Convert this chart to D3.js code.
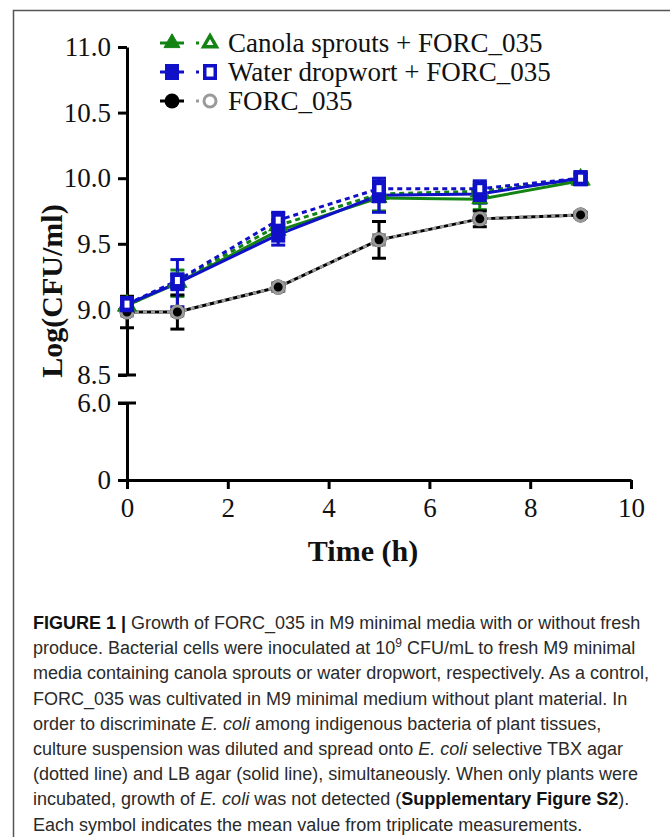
<!DOCTYPE html>
<html>
<head>
<meta charset="utf-8">
<script src="https://cdn.jsdelivr.net/npm/d3@7"></script>
<style>
  body { margin: 0; background: #fff; }
  svg { display: block; }
</style>
</head>
<body>
<div id="chart"></div>
<script>
// time points (h)
var time = [0, 1, 3, 5, 7, 9];

// LB agar (solid) and TBX agar (dotted), log CFU/ml
var canolaLB = [9.03, 9.20, 9.60, 9.85, 9.84, 9.98];
var canolaTBX = [9.03, 9.21, 9.64, 9.88, 9.90, 9.99];
var dropwortLB = [9.04, 9.20, 9.57, 9.87, 9.88, 10.00];
var dropwortTBX = [9.04, 9.22, 9.68, 9.92, 9.92, 10.00];
var forcLB = [8.98, 8.98, 9.17, 9.53, 9.69, 9.72];
var forcTBX = [8.98, 8.98, 9.17, 9.53, 9.69, 9.72];

// standard deviations
var canolaLBsd = [0.04, 0.10, 0.05, 0.10, 0.08, 0.02];
var canolaTBXsd = [0.03, 0.05, 0.04, 0.05, 0.05, 0.02];
var dropwortLBsd = [0.05, 0.18, 0.08, 0.13, 0.07, 0.04];
var dropwortTBXsd = [0.03, 0.05, 0.06, 0.06, 0.06, 0.03];
var forcLBsd = [0.12, 0.13, 0.03, 0.14, 0.06, 0.02];
var forcTBXsd = [0.03, 0.03, 0.03, 0.04, 0.03, 0.02];

var xTicks = [0, 2, 4, 6, 8, 10];
var yTopTicks = [8.5, 9.0, 9.5, 10.0, 10.5, 11.0];
var yBotTicks = [0, 6.0];

var legendLabels = ["Canola sprouts + FORC_035", "Water dropwort + FORC_035", "FORC_035"];

var caption = [
  [["b", "FIGURE 1 | "], ["", "Growth of FORC_035 in M9 minimal media with or without fresh"]],
  [["", "produce. Bacterial cells were inoculated at 10"], ["sup", "9"], ["after", " CFU/mL to fresh M9 minimal"]],
  [["", "media containing canola sprouts or water dropwort, respectively. As a control,"]],
  [["", "FORC_035 was cultivated in M9 minimal medium without plant material. In"]],
  [["", "order to discriminate "], ["i", "E. coli"], ["", " among indigenous bacteria of plant tissues,"]],
  [["", "culture suspension was diluted and spread onto "], ["i", "E. coli"], ["", " selective TBX agar"]],
  [["", "(dotted line) and LB agar (solid line), simultaneously. When only plants were"]],
  [["", "incubated, growth of "], ["i", "E. coli"], ["", " was not detected ("], ["b", "Supplementary Figure S2"], ["", ")."]],
  [["", "Each symbol indicates the mean value from triplicate measurements."]]
];

var W = 670, H = 837;
var svg = d3.select("#chart").append("svg").attr("width", W).attr("height", H);

// frame
svg.append("rect")
  .attr("x", 13.5).attr("y", 10.5)
  .attr("width", W + 20).attr("height", H + 20)
  .attr("fill", "none").attr("stroke", "#555").attr("stroke-width", 1.5);

var serif = "'Liberation Serif', 'Times New Roman', serif";

// scales
var x = d3.scaleLinear().domain([0, 10]).range([127, 631]);
var yTop = d3.scaleLinear().domain([8.5, 11]).range([375, 47]);
var yBot = d3.scaleLinear().domain([0, 6]).range([480, 403]);

// axes
var axisStroke = 3;
var xAxisG = svg.append("g").attr("class", "x-axis")
  .attr("transform", "translate(0,480)")
  .call(d3.axisBottom(x).tickValues(xTicks).tickSize(9).tickSizeOuter(0).tickFormat(d3.format("d")));
xAxisG.select(".domain").attr("stroke-width", axisStroke);
xAxisG.selectAll(".tick line").attr("stroke-width", axisStroke);
xAxisG.selectAll(".tick text").attr("font-family", serif).attr("font-size", 27).attr("fill", "#111").attr("dy", "0.93em");

var yTopG = svg.append("g").attr("class", "y-axis")
  .attr("transform", "translate(127,0)")
  .call(d3.axisLeft(yTop).tickValues(yTopTicks).tickSize(9).tickSizeOuter(0).tickFormat(d3.format(".1f")));
var yBotG = svg.append("g").attr("class", "y-axis")
  .attr("transform", "translate(127,0)")
  .call(d3.axisLeft(yBot).tickValues(yBotTicks).tickSize(9).tickSizeOuter(0)
    .tickFormat(function(d) { return d === 0 ? "0" : d3.format(".1f")(d); }));
[yTopG, yBotG].forEach(function(g) {
  g.select(".domain").attr("stroke-width", axisStroke);
  g.selectAll(".tick line").attr("stroke-width", axisStroke);
  g.selectAll(".tick text").attr("font-family", serif).attr("font-size", 27).attr("fill", "#111").attr("x", -16);
});
// break caps
[yTop(8.5), yBot(6)].forEach(function(yy) {
  svg.append("line").attr("x1", 118).attr("x2", 136).attr("y1", yy).attr("y2", yy)
    .attr("stroke", "#000").attr("stroke-width", axisStroke);
});

// axis titles
svg.append("text").attr("x", 363).attr("y", 561).attr("text-anchor", "middle")
  .attr("font-family", serif).attr("font-weight", "bold").attr("font-size", 30).attr("fill", "#111")
  .text("Time (h)");
svg.append("text").attr("transform", "translate(62,291) rotate(-90)").attr("text-anchor", "middle")
  .attr("font-family", serif).attr("font-weight", "bold").attr("font-size", 30).attr("fill", "#111")
  .text("Log(CFU/ml)");

// series
var series = [
  {v: canolaLB, sd: canolaLBsd, color: "#138413", dash: null, shape: "tri", fill: true},
  {v: canolaTBX, sd: canolaTBXsd, color: "#138413", dash: "5,4", shape: "tri", fill: false},
  {v: forcLB, sd: forcLBsd, color: "#000", dash: null, shape: "circ", fill: true},
  {v: forcTBX, sd: forcTBXsd, color: "#9a9a9a", dash: "4,4", shape: "circ", fill: false},
  {v: dropwortLB, sd: dropwortLBsd, color: "#1010c8", dash: null, shape: "sq", fill: true},
  {v: dropwortTBX, sd: dropwortTBXsd, color: "#1010c8", dash: "5,4", shape: "sq", fill: false}
];

var line = d3.line().x(function(d) { return x(d[0]); }).y(function(d) { return yTop(d[1]); });

var plot = svg.append("g");
series.forEach(function(s) {
  var pts = time.map(function(t, i) { return [t, s.v[i], s.sd[i]]; });
  plot.append("path").datum(pts).attr("d", line)
    .attr("fill", "none").attr("stroke", s.color).attr("stroke-width", 3)
    .attr("stroke-dasharray", s.dash);
});

function drawMarker(g, shape, fill, color, cx, cy, sw) {
  sw = sw || 3;
  if (shape === "sq") {
    if (fill) g.append("rect").attr("x", cx - 7).attr("y", cy - 8).attr("width", 14).attr("height", 16).attr("fill", color);
    else g.append("rect").attr("x", cx - 7 + sw / 2).attr("y", cy - 8 + sw / 2).attr("width", 14 - sw).attr("height", 16 - sw)
      .attr("fill", "#fff").attr("stroke", color).attr("stroke-width", sw);
  } else if (shape === "tri") {
    var sym = d3.symbol().type(d3.symbolTriangle).size(fill ? 110 : 70);
    g.append("path").attr("d", sym()).attr("transform", "translate(" + cx + "," + cy + ")")
      .attr("fill", fill ? color : "#fff").attr("stroke", color).attr("stroke-width", fill ? 1 : sw);
  } else {
    if (fill) g.append("circle").attr("cx", cx).attr("cy", cy).attr("r", 7.5).attr("fill", color);
    else g.append("circle").attr("cx", cx).attr("cy", cy).attr("r", 6).attr("fill", "none")
      .attr("stroke", color).attr("stroke-width", 3);
  }
}

series.forEach(function(s) {
  time.forEach(function(t, i) {
    var cx = x(t), hi = yTop(s.v[i] + s.sd[i]), lo = yTop(s.v[i] - s.sd[i]);
    plot.append("line").attr("x1", cx).attr("x2", cx).attr("y1", hi).attr("y2", lo)
      .attr("stroke", s.color).attr("stroke-width", 3);
    [hi, lo].forEach(function(yy) {
      plot.append("line").attr("x1", cx - 7).attr("x2", cx + 7).attr("y1", yy).attr("y2", yy)
        .attr("stroke", s.color).attr("stroke-width", 3);
    });
  });
});
series.forEach(function(s) {
  time.forEach(function(t, i) {
    drawMarker(plot, s.shape, s.fill, s.color, x(t), yTop(s.v[i]), 4.5);
  });
});

// legend
var legendRows = [[series[0], series[1]], [series[4], series[5]], [series[2], series[3]]];
var legendY = [43, 72, 101];
legendRows.forEach(function(pair, r) {
  var g = svg.append("g").attr("transform", "translate(0," + legendY[r] + ")");
  g.append("line").attr("x1", 160).attr("x2", 184).attr("y1", 0).attr("y2", 0)
    .attr("stroke", pair[0].color).attr("stroke-width", 3);
  drawMarker(g, pair[0].shape, true, pair[0].color, 172, 0);
  g.append("line").attr("x1", 196).attr("x2", 199).attr("y1", 0).attr("y2", 0)
    .attr("stroke", pair[1].color).attr("stroke-width", 3);
  drawMarker(g, pair[1].shape, false, pair[1].color, 210, 0, 3.5);
  g.append("text").attr("x", 228).attr("y", 0).attr("dy", "0.35em")
    .attr("font-family", serif).attr("font-size", 27).attr("fill", "#111")
    .text(legendLabels[r]);
});

// caption
var cap = svg.append("text").attr("font-family", "'Liberation Sans', Arial, sans-serif")
  .attr("font-size", 18).attr("fill", "#2a2a2a");
caption.forEach(function(parts, i) {
  var tl = cap.append("tspan").attr("x", 33).attr("y", 629 + i * 25.2);
  parts.forEach(function(p) {
    var ts = tl.append("tspan").text(p[1]);
    if (p[0] === "b") ts.attr("font-weight", "bold").attr("fill", "#111");
    if (p[0] === "i") ts.attr("font-style", "italic");
    if (p[0] === "sup") ts.attr("font-size", 12).attr("dy", -7);
    if (p[0] === "after") ts.attr("dy", 7);
  });
});
</script>
</body>
</html>
